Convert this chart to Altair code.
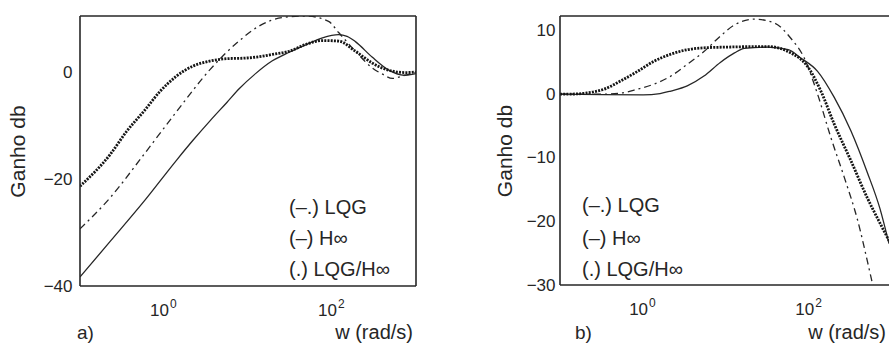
import altair as alt
import pandas as pd

# ---------------- panel a) ----------------
a_lqg_w = [0.1, 0.23, 0.58, 1.43, 3.55, 7.8, 13.5, 25.7, 49, 91, 120, 190, 300, 400, 525, 710, 1000]
a_lqg_db = [-29.3, -23.4, -15.3, -7.2, 0.6, 5.9, 8.7, 10.3, 10.6, 9.6, 7.5, 4.0, 0.9, -0.3, -1.1, -0.6, 0.0]

a_hinf_w = [0.1, 0.23, 0.58, 1.43, 2.24, 3.55, 5.6, 7.9, 12.3, 19.5, 31, 49, 77, 120, 151, 190, 300, 480, 720, 1000]
a_hinf_db = [-38.3, -31.6, -24.1, -16.3, -12.6, -9.0, -5.6, -3.0, -0.2, 2.2, 3.8, 5.2, 6.5, 7.1, 6.8, 5.8, 2.9, 0.4, -0.5, -0.2]

a_mix_w = [0.1, 0.23, 0.36, 0.58, 0.9, 1.4, 2.2, 3.5, 5.6, 9, 12.6, 19.5, 31, 49, 77, 120, 190, 300, 480, 760, 1000]
a_mix_db = [-21.3, -15.3, -11.0, -7.2, -3.5, -0.7, 1.2, 2.15, 2.6, 2.7, 2.9, 3.4, 4.0, 5.3, 6.0, 5.9, 4.0, 1.8, 0.4, 0.0, 0.1]

# ---------------- panel b) ----------------
b_lqg_w = [0.1, 0.32, 0.56, 0.86, 1.36, 2.16, 3.4, 5.4, 8.3, 12.6, 21.9, 38, 60, 87, 126, 182, 263, 380, 550, 630]
b_lqg_db = [0, 0, 0.2, 0.8, 1.6, 2.85, 4.7, 6.7, 9.0, 10.9, 11.8, 11.2, 8.8, 5.7, 0.0, -6.8, -13.0, -19.7, -28.6, -32.0]

b_hinf_w = [0.1, 0.32, 1, 1.6, 2.16, 3.4, 5.4, 8.5, 12.6, 16.6, 31.6, 56, 79, 126, 200, 316, 500, 710, 912]
b_hinf_db = [0, -0.05, -0.1, 0.1, 0.5, 1.3, 2.85, 5.0, 6.5, 7.2, 7.4, 7.0, 5.7, 3.6, -0.5, -5.7, -12.3, -18.0, -23.5]

b_mix_w = [0.1, 0.16, 0.21, 0.34, 0.54, 0.86, 1.36, 2.16, 3.4, 5.4, 9.4, 31.6, 60, 95, 138, 200, 316, 500, 725, 912]
b_mix_db = [0, 0.05, 0.2, 0.8, 2.1, 3.6, 5.2, 6.3, 7.0, 7.3, 7.4, 7.5, 6.5, 4.4, 0.5, -4.7, -10.4, -16.3, -20.5, -23.0]

# tick labels and texts
tick_w = [1, 100]
tick_exp = ["0", "2"]
legend_lines = ["(\u2013.) LQG", "(\u2013) H\u221e", "(.) LQG/H\u221e"]
x_title = "w (rad/s)"
y_title = "Ganho db"

FONT = "Liberation Sans"
INK = "#262626"


def df(w, db):
    return pd.DataFrame({"w": w, "db": db})


def make_panel(series, ydom, yticks, W, H, xmax, legend_x, legend_ys, tag, tag_x,
               label_pad, title_pad, draw_right, bottom_text_y):
    xs = alt.Scale(type="log", domain=[0.1, xmax], nice=False)
    ys = alt.Scale(domain=ydom, nice=False, zero=False)
    X = alt.X("w:Q", scale=xs, axis=None)
    Y = alt.Y("db:Q", scale=ys,
              axis=alt.Axis(values=yticks, title=y_title, labelPadding=label_pad,
                            titlePadding=title_pad, domain=False, ticks=False, grid=False,
                            labelFontSize=17, titleFontSize=21, labelFont=FONT,
                            titleFont=FONT, labelColor=INK, titleColor=INK,
                            titleFontWeight="normal"))
    (lqg_w, lqg_db), (hinf_w, hinf_db), (mix_w, mix_db) = series
    layers = []
    layers.append(alt.Chart(df(lqg_w, lqg_db)).mark_line(
        color=INK, strokeWidth=1.3, strokeDash=[7, 4, 2, 4], interpolate="monotone", clip=True
    ).encode(x=X, y=Y))
    layers.append(alt.Chart(df(hinf_w, hinf_db)).mark_line(
        color=INK, strokeWidth=1.3, interpolate="monotone", clip=True
    ).encode(x=X, y=Y))
    layers.append(alt.Chart(df(mix_w, mix_db)).mark_line(
        color="#151515", strokeWidth=2.8, strokeDash=[2, 1.2], interpolate="monotone", clip=True
    ).encode(x=X, y=Y))

    one = alt.Data(values=[{"k": 0}])
    # frame
    layers.append(alt.Chart(one).mark_rule(color=INK, strokeWidth=1.6).encode(
        x=alt.value(0), x2=alt.value(W), y=alt.value(0)))
    layers.append(alt.Chart(one).mark_rule(color=INK, strokeWidth=1.6).encode(
        x=alt.value(0), x2=alt.value(W), y=alt.value(H)))
    layers.append(alt.Chart(one).mark_rule(color=INK, strokeWidth=1.6).encode(
        x=alt.value(0), y=alt.value(0), y2=alt.value(H)))
    if draw_right:
        layers.append(alt.Chart(one).mark_rule(color=INK, strokeWidth=1.6).encode(
            x=alt.value(W), y=alt.value(0), y2=alt.value(H)))

    # x tick labels 10^n
    ticks = pd.DataFrame({"w": tick_w, "exp": tick_exp})
    layers.append(alt.Chart(ticks).mark_text(
        font=FONT, fontSize=17, color=INK, align="right", baseline="alphabetic", dx=5
    ).encode(x=X, y=alt.value(H + 30), text=alt.value("10")))
    layers.append(alt.Chart(ticks).mark_text(
        font=FONT, fontSize=12, color=INK, align="left", baseline="alphabetic", dx=6
    ).encode(x=X, y=alt.value(H + 22), text="exp:N"))

    # legend texts
    for txt, yy in zip(legend_lines, legend_ys):
        layers.append(alt.Chart(one).mark_text(
            font=FONT, fontSize=20, color=INK, align="left", baseline="middle"
        ).encode(x=alt.value(legend_x), y=alt.value(yy), text=alt.value(txt)))

    # x title and panel tag
    layers.append(alt.Chart(one).mark_text(
        font=FONT, fontSize=20, color=INK, align="right", baseline="alphabetic"
    ).encode(x=alt.value(W - 3), y=alt.value(bottom_text_y), text=alt.value(x_title)))
    layers.append(alt.Chart(one).mark_text(
        font=FONT, fontSize=19, color=INK, align="left", baseline="alphabetic"
    ).encode(x=alt.value(tag_x), y=alt.value(bottom_text_y), text=alt.value(tag)))

    return alt.layer(*layers).properties(width=W, height=H)


panel_a = make_panel(
    [(a_lqg_w, a_lqg_db), (a_hinf_w, a_hinf_db), (a_mix_w, a_mix_db)],
    ydom=[-40, 10.6], yticks=[-40, -20, 0], W=336, H=270, xmax=1000,
    legend_x=209, legend_ys=[192, 223, 254], tag="a)", tag_x=-3,
    label_pad=8, title_pad=15, draw_right=True, bottom_text_y=323)

panel_b = make_panel(
    [(b_lqg_w, b_lqg_db), (b_hinf_w, b_hinf_db), (b_mix_w, b_mix_db)],
    ydom=[-30, 12.3], yticks=[-30, -20, -10, 0, 10], W=329, H=269, xmax=912,
    legend_x=22, legend_ys=[190, 223, 254], tag="b)", tag_x=15,
    label_pad=5, title_pad=11, draw_right=False, bottom_text_y=323)

chart = alt.hconcat(panel_a, panel_b, spacing=77).properties(
    padding={"left": 7, "top": 15, "right": 0, "bottom": 0},
    background="white",
).configure_view(strokeWidth=0)

chart.save("out.html", embed_options={"renderer": "svg", "actions": False})
